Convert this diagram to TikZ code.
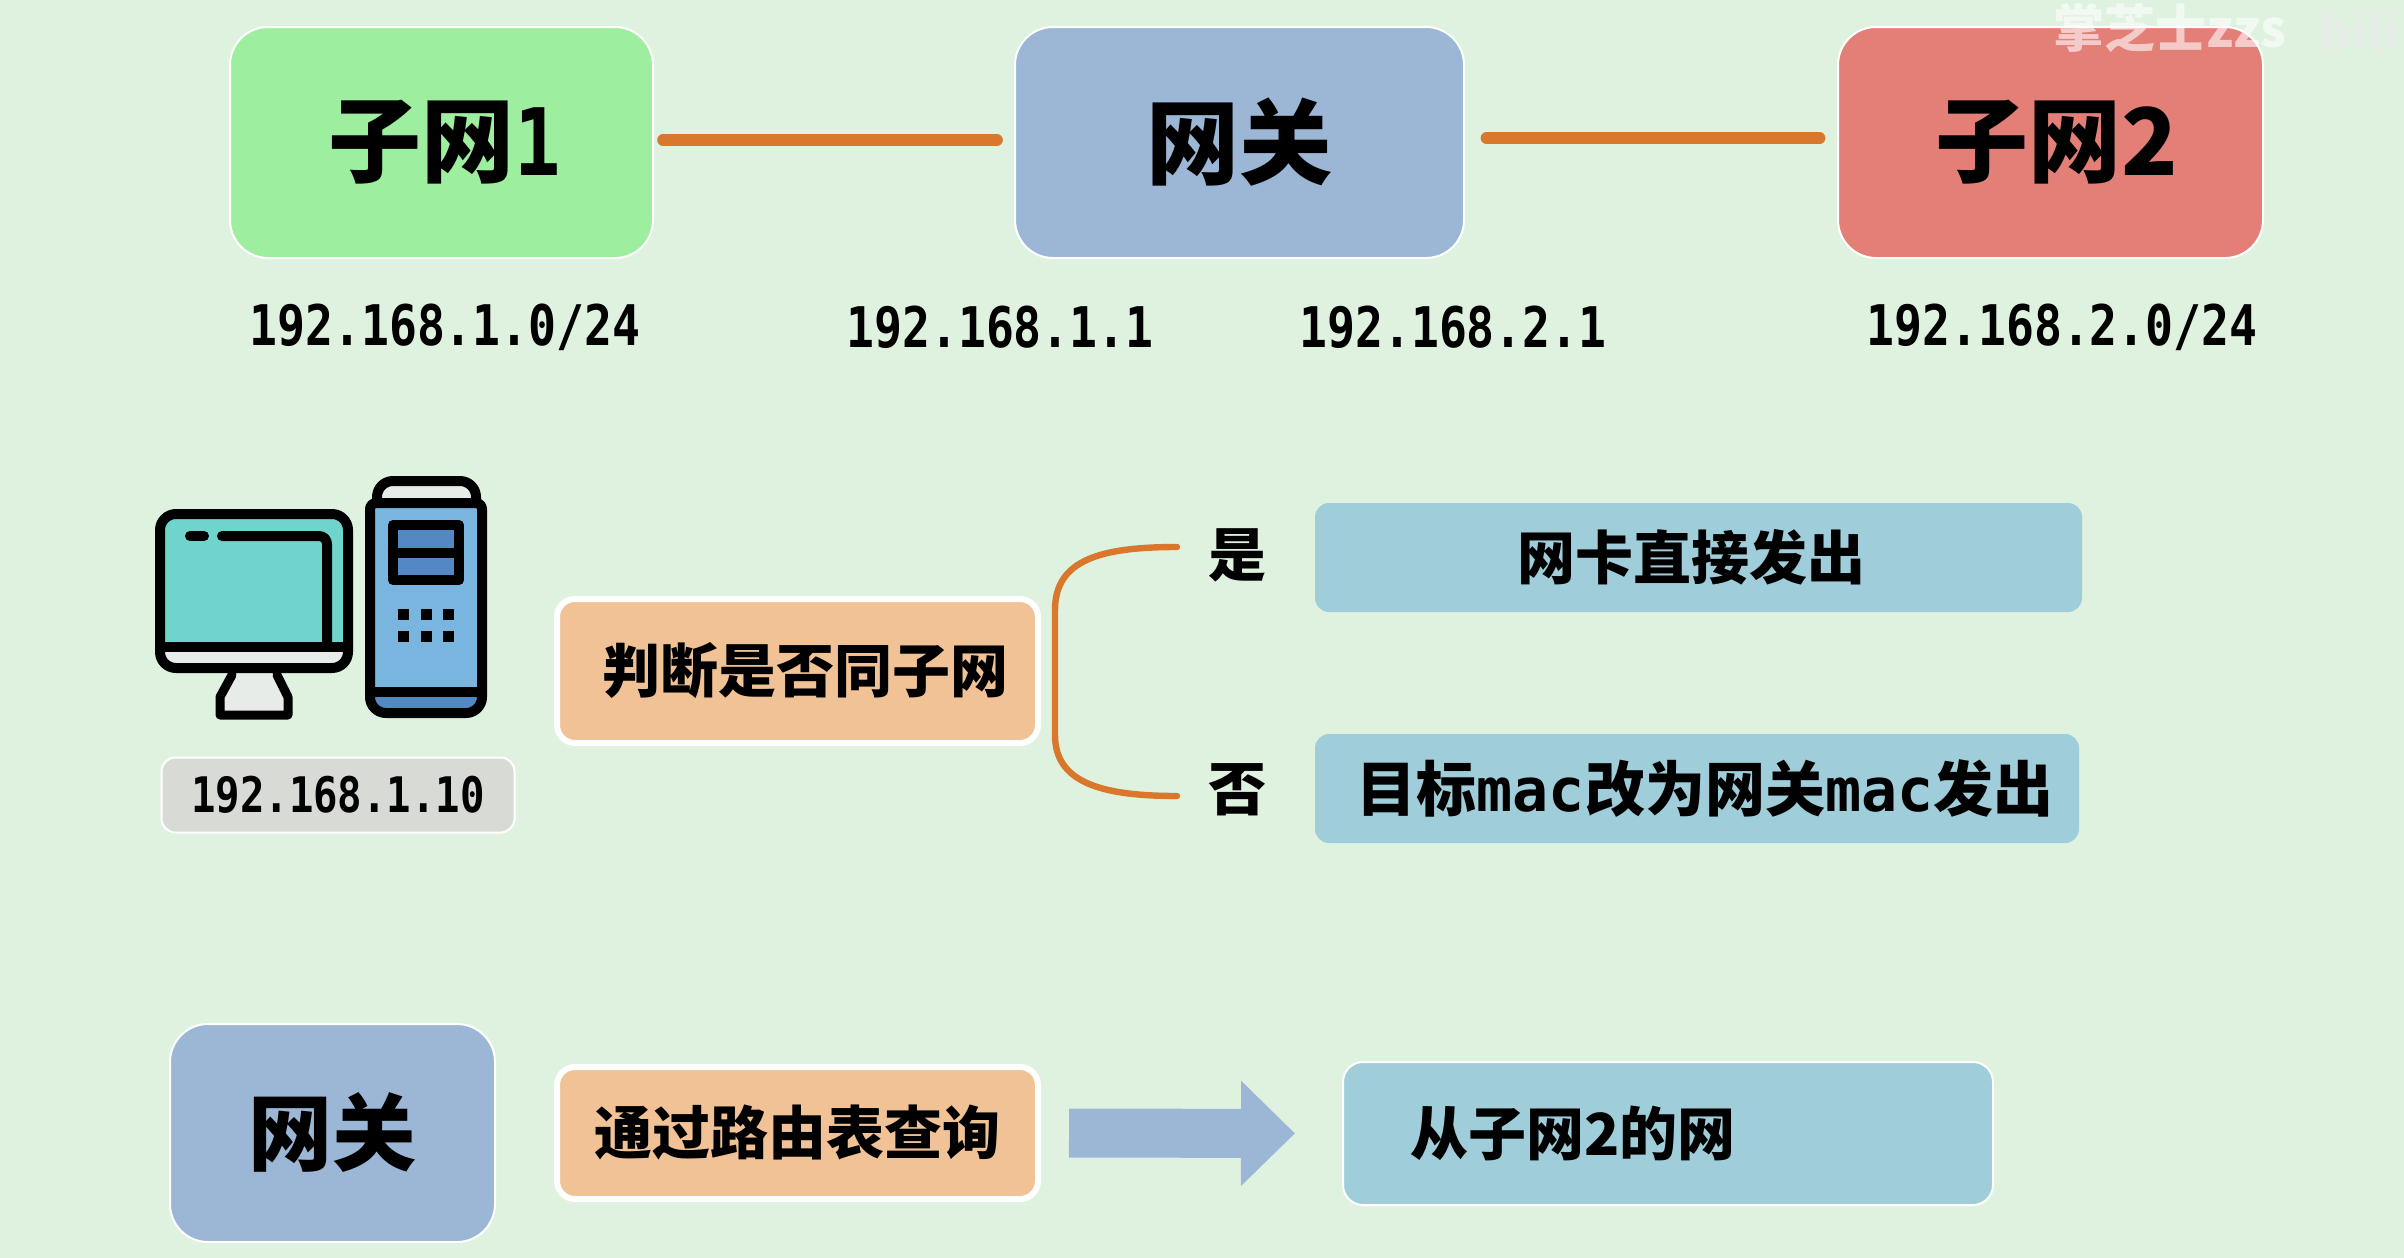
\documentclass[tikz,border=0pt]{standalone}
\usepackage{fontspec}
\usetikzlibrary{arrows.meta}
\newfontfamily\cjk{Noto Sans CJK SC}
\newfontfamily\digi[FakeStretch=0.83]{DejaVu Sans Mono}
\newfontfamily\digimac{DejaVu Sans Mono}
\newcommand{\fsz}[1]{\fontsize{#1}{#1}\selectfont}
\definecolor{bgc}{HTML}{DFF2DF}
\definecolor{greenb}{HTML}{9EEEA0}
\definecolor{gateb}{HTML}{9CB6D6}
\definecolor{redb}{HTML}{E47F78}
\definecolor{orangeb}{HTML}{F0C296}
\definecolor{barb}{HTML}{9FCDD9}
\definecolor{linkc}{HTML}{D9782D}
\definecolor{grayb}{HTML}{D8DAD6}
\definecolor{screenc}{HTML}{6FD5CC}
\definecolor{lightc}{HTML}{E8ECE8}
\definecolor{towerc}{HTML}{7AB5E0}
\definecolor{towerd}{HTML}{5388C4}
\tikzset{
  box/.style={rounded corners=19pt,draw=white,line width=1pt,inner sep=0pt,outer sep=0pt,
    font=\cjk\bfseries\fsz{46.5}},
  step1/.style={rounded corners=9pt,draw=white,line width=3pt,fill=orangeb,inner sep=0pt,outer sep=0pt,
    minimum width=240.5pt,minimum height=72pt,font=\cjk\bfseries\fsz{29}},
  bar/.style={rounded corners=7pt,fill=barb,inner sep=0pt,outer sep=0pt,font=\cjk\bfseries\fsz{29}},
  iplabel/.style={font=\digi\bfseries\fsz{28},inner sep=0pt},
  link/.style={draw=linkc,line width=5.8pt,line cap=round},
  brace/.style={draw=linkc,line width=3.2pt,line cap=round},
  ink/.style={draw=black,line width=5pt,line join=round,line cap=round},
}
\begin{document}
\begin{tikzpicture}[x=0.5pt,y=-0.5pt]
\useasboundingbox (0,0) rectangle (2404,1258);
\fill[bgc] (0,0) rectangle (2404,1258);
% top row
\node[box,fill=greenb,minimum width=211.5pt,minimum height=115.5pt] (sub1) at (441.5,142.5) {\hspace{3pt}子网{\digi\bfseries 1}};
\node[box,fill=gateb,minimum width=224.5pt,minimum height=115.5pt] (gate) at (1239.5,142.5) {网关};
\node[box,fill=redb,minimum width=212.5pt,minimum height=115.5pt] (sub2) at (2050.5,142.5) {\hspace{6pt}子网2};
\draw[link,shorten <=5pt,shorten >=9pt] ([yshift=1.2pt]sub1.east) -- ([yshift=1.2pt]gate.west);
\draw[link,shorten <=11.2pt,shorten >=9.2pt] ([yshift=2.2pt]gate.east) -- ([yshift=2.2pt]sub2.west);
\node[iplabel] (ip1) at (445,327) {192.168.1.0/24};
\node[iplabel] (ip2) at (1000,327) {192.168.1.1};
\node[iplabel] (ip3) at (1453,327) {192.168.2.1};
\node[iplabel] (ip4) at (2062,327) {192.168.2.0/24};
% monitor
\path[fill=lightc,rounded corners=7pt] (160,640) rectangle (348,668);
\path[fill=screenc,rounded corners=4pt] (160,514) -- (348,514) -- (348,647) -- (160,647) -- cycle;
\draw[ink,fill=lightc,line width=4.5pt] (232,675) -- (220,697) -- (220,715) -- (288,715) -- (288,697) -- (277,675);
\draw[ink,rounded corners=8pt] (160,514) rectangle (348,668);
\draw[ink] (160,647) -- (348,647);
\draw[ink,rounded corners=4pt] (222,536) -- (327,536) -- (327,647);
\draw[ink] (190,536) -- (204,536);
% tower
\draw[ink,fill=lightc,rounded corners=8pt] (377,503) -- (377,481) -- (476,481) -- (476,503);
\fill[towerd,rounded corners=6pt] (370,680) rectangle (482,713);
\fill[towerc] (370,503) rectangle (482,692);
\draw[ink,rounded corners=8pt] (370,600) -- (370,713) -- (482,713) -- (482,600);
\draw[ink,rounded corners=3pt] (370,600) -- (370,503) -- (482,503) -- (482,600);
\draw[ink] (370,692) -- (482,692);
\draw[ink,fill=towerd,line join=round] (393,525) rectangle (459,580);
\draw[ink] (393,553) -- (459,553);
\foreach \px in {403,426,448}
  \foreach \py in {614,636}
    \fill[black] (\px-5.5,\py-5.5) rectangle (\px+5.5,\py+5.5);
% host address
\node[draw=white,line width=1pt,fill=grayb,rounded corners=7pt,minimum width=176.5pt,minimum height=37.5pt,
  inner sep=0pt,font=\digi\bfseries\fsz{24.5}] (hostip) at (338,795) {192.168.1.10};
% decision
\node[step1] (judge) at (797.5,671) {\hspace{8pt}判断是否同子网};
\coordinate (yesend) at (1177,547);
\coordinate (noend) at (1177,796);
\draw[brace] (yesend) .. controls (1100,547) and (1055,560) .. (1055,610) -- (1055,735)
  .. controls (1055,782) and (1100,796) .. (noend);
\node[font=\cjk\bfseries\fsz{29},inner sep=0pt] (yes) at (1237,555) {是};
\node[font=\cjk\bfseries\fsz{29},inner sep=0pt] (no) at (1237,790) {否};
\node[bar,minimum width=383.5pt,minimum height=54.5pt] (send1) at (1698.5,557.5) {\hspace{-7pt}网卡直接发出};
\node[bar,minimum width=382pt,minimum height=54.5pt,font=\cjk\bfseries\fsz{30}] (send2) at (1697,788.5) {\hspace{8pt}目标{\digimac\bfseries mac}改为网关{\digimac\bfseries mac}发出};
% bottom row
\node[box,fill=gateb,minimum width=162.5pt,minimum height=109pt,font=\cjk\bfseries\fsz{42}] (gate2) at (332.5,1133) {网关};
\node[step1,minimum height=66pt] (query) at (797.5,1133) {通过路由表查询};
\node[bar,draw=white,line width=1pt,rounded corners=10pt,minimum width=325pt,minimum height=71.5pt] (route) at (1668,1133.5) {};
\node[font=\cjk\bfseries\fsz{29},inner sep=0pt,anchor=west] (routetext) at (1410,1133) {从子网2的网};
\draw[draw=gateb,line width=24.5pt,-{Triangle[length=27pt,width=51pt]},shorten <=15.5pt,shorten >=24pt]
  (query.east) -- (route.west);
% watermark
\node[font=\cjk\bfseries\fsz{25.5},text=white,opacity=.6,inner sep=0pt,anchor=west] (wm) at (2053,28) {掌芝士zzs};
\node[font=\cjk\bfseries\fsz{25},text=lightc,opacity=.8,inner sep=0pt,anchor=west] (wm2) at (2318,30) {bili};
\end{tikzpicture}
\end{document}
